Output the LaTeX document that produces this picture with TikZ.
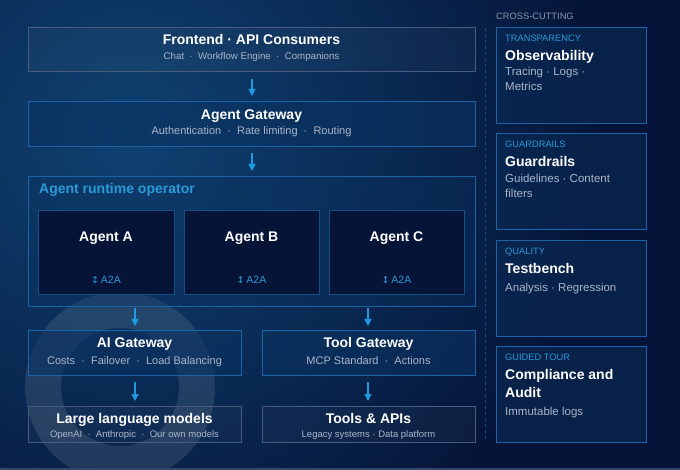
\documentclass[tikz,border=0pt]{standalone}
\usepackage{fontspec}
\setmainfont{Liberation Sans}
\newfontfamily\symfont{DejaVu Sans}
\usetikzlibrary{arrows.meta}
\definecolor{bgdark}{HTML}{051438}
\definecolor{bglight}{HTML}{0F4272}
\definecolor{graybord}{HTML}{4A5B7E}
\definecolor{bluebord}{HTML}{1A63A6}
\definecolor{brightblue}{HTML}{1E9BE0}
\definecolor{subtxt}{HTML}{A9B6CC}
\definecolor{bluefill}{HTML}{0B3260}
\definecolor{agentfill}{HTML}{061437}
\definecolor{cardfill}{HTML}{0A2A55}
\definecolor{headblue}{HTML}{2A9AD8}
\tikzset{
  x=1pt,y=-1pt,
  graybox/.style={draw=graybord,line width=0.8pt,fill=white,fill opacity=0.03},
  bluebox/.style={draw=bluebord,line width=0.8pt,fill=bluefill,fill opacity=0.6},
  agentbox/.style={draw=bluebord!80!black,line width=0.8pt,fill=agentfill},
  cardbox/.style={draw=bluebord,line width=0.8pt,fill=cardfill,fill opacity=0.6},
  ttl/.style={text=white,font=\bfseries\fontsize{14}{16}\selectfont,inner sep=0pt,anchor=base},
  sub/.style={text=subtxt,font=\fontsize{11}{13}\selectfont,inner sep=0pt,anchor=base},
  flow/.style={-{Triangle[length=7pt,width=7pt]},draw=brightblue,line width=1.1pt},
  cardlbl/.style={text=headblue,font=\fontsize{9.3}{11}\selectfont,anchor=base west,inner sep=0pt},
  cardttl/.style={text=white,font=\bfseries\fontsize{14}{17}\selectfont,anchor=base west,inner sep=0pt},
  cardsub/.style={text=subtxt,font=\fontsize{11.5}{15}\selectfont,anchor=base west,inner sep=0pt},
}
\begin{document}
\begin{tikzpicture}
\useasboundingbox (0,0) rectangle (680,470);
% background
\begin{scope}
\clip (0,0) rectangle (680,470);
\fill[bgdark] (0,0) rectangle (680,470);
\shade[inner color=bglight,outer color=bgdark] (130,140) circle[radius=480];
% halo ring
\draw[white,opacity=0.10,line width=36pt] (120,387) circle[radius=77];
\end{scope}
\fill[graybord!70!bgdark] (0,467.5) rectangle (680,470);

% main boxes
\draw[graybox] (28,27) rectangle (475,71);
\node[ttl] (fe) at (251.5,45) {Frontend · API Consumers};
\node[sub,font=\fontsize{9.7}{12}\selectfont] (fes) at (251.5,59.5) {Chat \ · \ Workflow Engine \ · \ Companions};
\coordinate (feb) at (252,79);

\draw[bluebox] (28,101) rectangle (475,146);
\node[ttl] (ag) at (251.5,120) {Agent Gateway};
\node[sub] (ags) at (251.5,135) {Authentication \ · \ Rate limiting \ · \ Routing};
\coordinate (agt) at (252,96);
\coordinate (agb) at (252,153);

\draw[draw=bluebord,line width=0.9pt,fill=bluefill,fill opacity=0.35] (28,176) rectangle (475,306);
\coordinate (rot) at (252,171);
\node[text=headblue,font=\bfseries\fontsize{14}{16}\selectfont,anchor=base west,inner sep=0pt] (rt) at (39,194) {Agent runtime operator};

\foreach \n/\xa/\xb/\lab in {a/38/174/A,b/184/319/B,c/329/464/C}{
  \draw[agentbox] (\xa,210) rectangle (\xb,294);
  \node[ttl] (agent\n) at ({(\xa+\xb)/2},242) {Agent \lab};
  \node[text=headblue,font=\fontsize{10.5}{12}\selectfont,inner sep=0pt,anchor=base] (a2a\n) at ({(\xa+\xb)/2},284) {{\symfont\fontsize{9.5}{11}\selectfont ↕}\,A2A};
}
\coordinate (rob1) at (135,308);
\coordinate (rob2) at (368,308);

\draw[bluebox] (28,330) rectangle (241,375);
\node[ttl] (aig) at (134.5,348) {AI Gateway};
\node[sub] (aigs) at (134.5,364) {Costs \ · \ Failover \ · \ Load Balancing};
\coordinate (aigt) at (135,326);
\coordinate (aigb) at (135,382);

\draw[bluebox] (262,330) rectangle (475,375);
\node[ttl] (tg) at (368.5,348) {Tool Gateway};
\node[sub] (tgs) at (368.5,364) {MCP Standard \ · \ Actions};
\coordinate (tgt) at (368,326);
\coordinate (tgb) at (368,382);

\draw[graybox] (28,406) rectangle (241,442);
\node[ttl] (llm) at (134.5,423) {Large language models};
\node[sub,font=\fontsize{9.5}{11}\selectfont] (llms) at (134.5,437.5) {OpenAI \ · \ Anthropic \ · \ Our own models};
\coordinate (llmt) at (135,401);

\draw[graybox] (262,406) rectangle (475,442);
\node[ttl] (tools) at (368.5,423) {Tools \& APIs};
\node[sub,font=\fontsize{9.5}{11}\selectfont] (toolss) at (368.5,437.5) {Legacy systems · Data platform};
\coordinate (toolst) at (368,401);

% arrows
\draw[flow] (feb) -- (agt);
\draw[flow] (agb) -- (rot);
\draw[flow] (rob1) -- (aigt);
\draw[flow] (rob2) -- (tgt);
\draw[flow] (aigb) -- (llmt);
\draw[flow] (tgb) -- (toolst);

% divider
\coordinate (dvt) at (485,28);
\coordinate (dvb) at (485,442);
\draw[bluebord!70!bgdark,line width=0.8pt,dash pattern=on 3pt off 3pt] (dvt) -- (dvb);

\node[text=subtxt!80!bgdark,font=\fontsize{9.3}{11}\selectfont,anchor=base west,inner sep=0pt] (cc) at (496,19.5) {CROSS-CUTTING};

% cards
\draw[cardbox] (496,27) rectangle (646,123);
\node[cardlbl] (l1) at (505,41.5) {TRANSPARENCY};
\node[cardttl] (t1) at (505,61) {Observability};
\node[cardsub] (s1) at (505,75.5) {Tracing · Logs ·};
\node[cardsub] (s1b) at (505,90.5) {Metrics};

\draw[cardbox] (496,133) rectangle (646,229);
\node[cardlbl] (l2) at (505,147.5) {GUARDRAILS};
\node[cardttl] (t2) at (505,167) {Guardrails};
\node[cardsub] (s2) at (505,182.5) {Guidelines · Content};
\node[cardsub] (s2b) at (505,197.5) {filters};

\draw[cardbox] (496,240) rectangle (646,336);
\node[cardlbl] (l3) at (505,254.5) {QUALITY};
\node[cardttl] (t3) at (505,273.5) {Testbench};
\node[cardsub] (s3) at (505,291.5) {Analysis · Regression};

\draw[cardbox] (496,346) rectangle (646,442);
\node[cardlbl] (l4) at (505,360.5) {GUIDED TOUR};
\node[cardttl] (t4) at (505,379.5) {Compliance and};
\node[cardttl] (t4b) at (505,397) {Audit};
\node[cardsub] (s4) at (505,415.5) {Immutable logs};
\end{tikzpicture}
\end{document}
